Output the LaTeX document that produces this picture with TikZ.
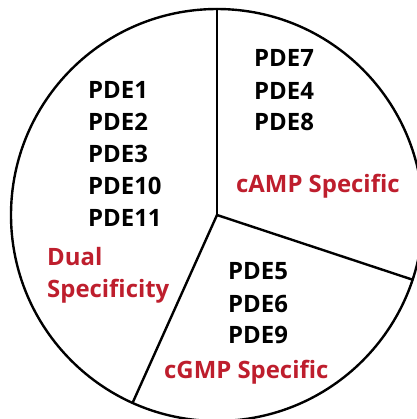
\documentclass[tikz,border=0pt]{standalone}
\usepackage{fontspec}
\setsansfont{Open Sans}
\definecolor{specred}{RGB}{190,30,45}

\begin{document}
\begin{tikzpicture}[x=1bp,y=1bp]
\tikzset{
  pdename/.style={anchor=base west,inner sep=0pt,font=\sffamily\bfseries\fontsize{24}{28}\selectfont},
  classname/.style={pdename,text=specred},
  slice/.style={line width=2.4bp,line cap=round}
}
\useasboundingbox (-217,-204) rectangle (200,215);
\clip (-217,-204) rectangle (200,215);
% pie
\coordinate (c) at (0,0);
\draw[slice] (c) circle (206);
\draw[slice] (c) -- (90:206);
\draw[slice] (c) -- (-18.3:206);
\draw[slice] (c) -- (-114.2:206);
% dual specificity
\node[pdename] (n_pde1) at (-129,117) {PDE1};
\node[pdename] (n_pde2) at (-129,85) {PDE2};
\node[pdename] (n_pde3) at (-129,53) {PDE3};
\node[pdename] (n_pde10) at (-129,21) {PDE10};
\node[pdename] (n_pde11) at (-129,-11) {PDE11};
\node[classname] (n_dual) at (-170,-50) {Dual};
\node[classname] (n_dualb) at (-170,-82) {Specificity};
% camp specific
\node[pdename] (n_pde7) at (37,149) {PDE7};
\node[pdename] (n_pde4) at (37,116) {PDE4};
\node[pdename] (n_pde8) at (37,85) {PDE8};
\node[classname] (n_camp) at (19,23) {cAMP Specific};
% cgmp specific
\node[pdename] (n_pde5) at (11,-64) {PDE5};
\node[pdename] (n_pde6) at (11,-97) {PDE6};
\node[pdename] (n_pde9) at (11,-128) {PDE9};
\node[classname] (n_cgmp) at (-53,-163) {cGMP Specific};
\end{tikzpicture}
\end{document}
